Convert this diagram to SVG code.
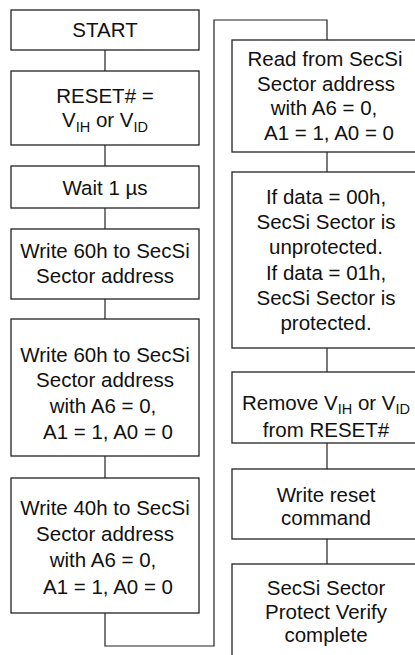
<svg xmlns="http://www.w3.org/2000/svg" width="415" height="655" viewBox="0 0 415 655">
<style>
.box{fill:#fff;stroke:#222;stroke-width:1.3}
.ln{fill:none;stroke:#222;stroke-width:1.2}
text{font-family:"Liberation Sans",Arial,sans-serif;font-size:20.5px;fill:#111;text-anchor:middle}
.sub{font-size:14.5px}
</style>
<rect width="415" height="655" fill="#fff"/>
<g id="connectors">
<line class="ln" x1="105" y1="50" x2="105" y2="71"/>
<line class="ln" x1="105" y1="145" x2="105" y2="166"/>
<line class="ln" x1="105" y1="208" x2="105" y2="229"/>
<line class="ln" x1="105" y1="299" x2="105" y2="319"/>
<line class="ln" x1="105" y1="456" x2="105" y2="478"/>
<polyline class="ln" points="105,613 105,646 214,646 214,20 327,20 327,40"/>
<line class="ln" x1="327" y1="152" x2="327" y2="172"/>
<line class="ln" x1="327" y1="348" x2="327" y2="372"/>
<line class="ln" x1="327" y1="443" x2="327" y2="469"/>
<line class="ln" x1="327" y1="539" x2="327" y2="564"/>
</g>
<g id="start"><rect class="box" x="11" y="10" width="188" height="40"/><text x="105" y="37">START</text></g>
<g id="reset"><rect class="box" x="11" y="71" width="188" height="74"/>
<text x="105" y="103">RESET# =</text>
<text x="105" y="127">V<tspan class="sub" dy="5">IH</tspan><tspan dy="-5"> or V</tspan><tspan class="sub" dy="5">ID</tspan></text></g>
<g id="wait"><rect class="box" x="11" y="166" width="188" height="42"/><text x="105" y="195">Wait 1 µs</text></g>
<g id="write60a"><rect class="box" x="11" y="229" width="188" height="70"/>
<text x="105" y="258">Write 60h to SecSi</text><text x="105" y="283">Sector address</text></g>
<g id="write60b"><rect class="box" x="11" y="319" width="188" height="137"/>
<text x="105" y="362">Write 60h to SecSi</text><text x="105" y="387">Sector address</text>
<text x="103" y="413">with A6 = 0,</text><text x="108" y="439">A1 = 1, A0 = 0</text></g>
<g id="write40"><rect class="box" x="11" y="478" width="188" height="135"/>
<text x="105" y="515">Write 40h to SecSi</text><text x="105" y="541">Sector address</text>
<text x="103" y="567">with A6 = 0,</text><text x="108" y="594">A1 = 1, A0 = 0</text></g>
<g id="read"><rect class="box" x="232" y="40" width="189" height="112"/>
<text x="325" y="66">Read from SecSi</text><text x="326" y="91">Sector address</text>
<text x="324" y="115">with A6 = 0,</text><text x="329" y="140">A1 = 1, A0 = 0</text></g>
<g id="ifdata"><rect class="box" x="232" y="172" width="189" height="176"/>
<text x="326" y="204">If data = 00h,</text><text x="326" y="229">SecSi Sector is</text>
<text x="326" y="254">unprotected.</text><text x="326" y="280">If data = 01h,</text>
<text x="326" y="305">SecSi Sector is</text><text x="326" y="330">protected.</text></g>
<g id="remove"><rect class="box" x="232" y="372" width="189" height="71"/>
<text x="326" y="410">Remove V<tspan class="sub" dy="4">IH</tspan><tspan dy="-4"> or V</tspan><tspan class="sub" dy="4">ID</tspan></text>
<text x="326" y="437">from RESET#</text></g>
<g id="writereset"><rect class="box" x="232" y="469" width="189" height="70"/>
<text x="326" y="502">Write reset</text><text x="326" y="525">command</text></g>
<g id="complete"><rect class="box" x="232" y="564" width="189" height="100"/>
<text x="326" y="595">SecSi Sector</text><text x="326" y="619">Protect Verify</text><text x="326" y="642">complete</text></g>
</svg>
